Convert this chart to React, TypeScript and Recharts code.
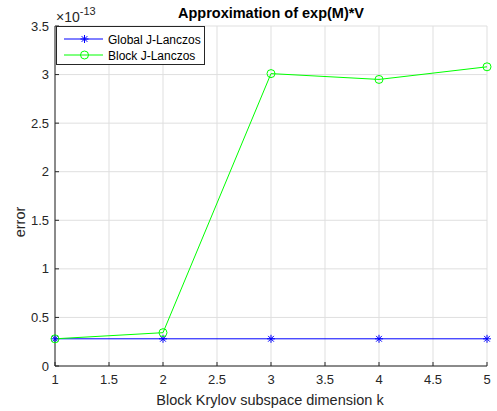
import React from 'react';
import { LineChart, Line, XAxis, YAxis, CartesianGrid, Legend } from 'recharts';

const kValues = [1, 2, 3, 4, 5];
const globalErr = [0.28, 0.28, 0.28, 0.28, 0.28];
const blockErr = [0.28, 0.343, 3.01, 2.95, 3.08];
const xTicks = [1, 1.5, 2, 2.5, 3, 3.5, 4, 4.5, 5];
const yTicks = [0, 0.5, 1, 1.5, 2, 2.5, 3, 3.5];
const seriesNames = ['Global J-Lanczos', 'Block J-Lanczos'];

const data = kValues.map((k, i) => ({ k, global: globalErr[i], block: blockErr[i] }));

const FONT = '"Liberation Sans", Arial, Helvetica, sans-serif';
const AXIS = '#262626';
const GRID = '#dfdfdf';
const BLUE = '#0000ff';
const GREEN = '#00ff00';

const Asterisk = ({ cx, cy, color, r = 4 }: any) => {
  const d = r * 0.72;
  return (
    <g stroke={color} strokeWidth={1}>
      <line x1={cx - r} y1={cy} x2={cx + r} y2={cy} />
      <line x1={cx} y1={cy - r} x2={cx} y2={cy + r} />
      <line x1={cx - d} y1={cy - d} x2={cx + d} y2={cy + d} />
      <line x1={cx - d} y1={cy + d} x2={cx + d} y2={cy - d} />
    </g>
  );
};

const XTick = ({ x, y, payload }: any) => (
  <g>
    <line x1={x} y1={y} x2={x} y2={y - 4} stroke={AXIS} />
    <text x={x} y={y + 18} textAnchor="middle" fontFamily={FONT} fontSize={13} fill={AXIS}>
      {payload.value}
    </text>
  </g>
);

const YTick = ({ x, y, payload }: any) => (
  <g>
    <line x1={x} y1={y} x2={x + 4} y2={y} stroke={AXIS} />
    <text x={x - 6} y={y + 4.5} textAnchor="end" fontFamily={FONT} fontSize={13} fill={AXIS}>
      {payload.value}
    </text>
  </g>
);

const LegendBox = () => (
  <div
    style={{
      width: 149,
      height: 39,
      border: `1px solid ${AXIS}`,
      background: '#fff',
      boxSizing: 'border-box',
    }}
  >
    <svg width={147} height={37} style={{ display: 'block' }}>
      <line x1={7} y1={12} x2={46} y2={12} stroke={BLUE} />
      <Asterisk cx={27.5} cy={12} color={BLUE} />
      <text x={51} y={16.5} fontFamily={FONT} fontSize={12} fill="#000">{seriesNames[0]}</text>
      <line x1={7} y1={28} x2={46} y2={28} stroke={GREEN} />
      <circle cx={27.5} cy={28} r={4} fill="none" stroke={GREEN} />
      <text x={51} y={32.5} fontFamily={FONT} fontSize={12} fill="#000">{seriesNames[1]}</text>
    </svg>
  </div>
);

export default function App() {
  return (
    <div style={{ position: 'absolute', left: 0, top: 0, width: 497, height: 411, background: '#fff' }}>
      <LineChart width={497} height={411} data={data} margin={{ top: 26, right: 10, bottom: 0, left: 0 }}>
        <CartesianGrid stroke={GRID} horizontalValues={yTicks} verticalValues={xTicks} />
        <XAxis
          dataKey="k"
          type="number"
          domain={[1, 5]}
          ticks={xTicks}
          height={45}
          tickSize={0}
          tickMargin={0}
          tick={<XTick />}
          axisLine={{ stroke: AXIS }}
          padding={{ left: 0, right: 0 }}
          interval={0}
        />
        <YAxis
          type="number"
          domain={[0, 3.5]}
          ticks={yTicks}
          width={55}
          tickSize={0}
          tickMargin={0}
          tick={<YTick />}
          axisLine={{ stroke: AXIS }}
          interval={0}
        />
        <Legend
          layout="horizontal"
          verticalAlign="middle"
          align="center"
          content={<LegendBox />}
          wrapperStyle={{ left: 56, top: 26, width: 149, height: 39, margin: 0 }}
        />
        <Line
          dataKey="global"
          name={seriesNames[0]}
          stroke={BLUE}
          strokeWidth={1}
          isAnimationActive={false}
          dot={(p: any) => <Asterisk key={`g${p.index}`} cx={p.cx} cy={p.cy} color={BLUE} />}
          activeDot={false}
        />
        <Line
          dataKey="block"
          name={seriesNames[1]}
          stroke={GREEN}
          strokeWidth={1}
          isAnimationActive={false}
          dot={(p: any) => <circle key={`b${p.index}`} cx={p.cx} cy={p.cy} r={4} fill="none" stroke={GREEN} />}
          activeDot={false}
        />
      </LineChart>
      <svg width={497} height={411} style={{ position: 'absolute', left: 0, top: 0, pointerEvents: 'none' }}>
        <text x={271} y={18} textAnchor="middle" fontFamily={FONT} fontSize={14.5} fontWeight="bold" fill="#000">
          Approximation of exp(M)*V
        </text>
        <text x={56} y={22} fontFamily={FONT} fontSize={14} fill={AXIS}>
          ×10
          <tspan fontSize={11} dy={-7}>-13</tspan>
        </text>
        <text x={270} y={405} textAnchor="middle" fontFamily={FONT} fontSize={14.5} fill={AXIS}>
          Block Krylov subspace dimension k
        </text>
        <text x={25} y={222} textAnchor="middle" transform="rotate(-90 25 222)" fontFamily={FONT} fontSize={14.5} fill={AXIS}>
          error
        </text>
      </svg>
    </div>
  );
}
